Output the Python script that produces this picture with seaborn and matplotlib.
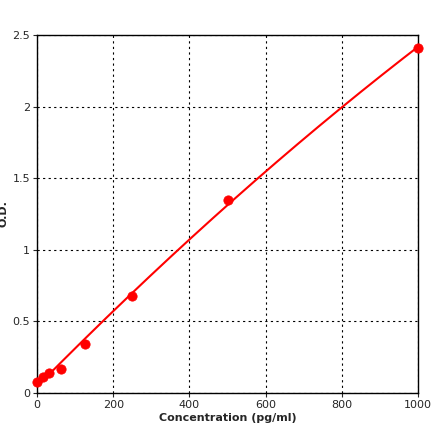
import matplotlib
matplotlib.use("Agg")
import matplotlib.pyplot as plt
import seaborn as sns
import numpy as np
import pandas as pd

conc = [0, 15.6, 31.25, 62.5, 125, 250, 500, 1000]
od = [0.08, 0.11, 0.14, 0.17, 0.34, 0.68, 1.35, 2.41]
xticks = [0, 200, 400, 600, 800, 1000]
yticks = [0, 0.5, 1, 1.5, 2, 2.5]
ytick_labels = ["0", "0.5", "1", "1.5", "2", "2.5"]

sns.set_style("white")
plt.rcParams['font.family'] = ['DejaVu Sans']
fig = plt.figure(figsize=(4.4, 4.41), dpi=100)
ax = fig.add_axes([37/440, 48/441, 381/440, 358/441])

df = pd.DataFrame({"x": conc, "y": od})
coef = np.polyfit(conc, od, 2)
xs = np.linspace(0, 1000, 200)
sns.lineplot(x=xs, y=np.polyval(coef, xs), ax=ax, color="red", lw=1.5)
sns.scatterplot(data=df, x="x", y="y", ax=ax, color="red", marker="o", s=45,
                edgecolor="red", zorder=5, clip_on=False)

ax.set_xlim(0, 1000)
ax.set_ylim(0, 2.5)
ax.set_xticks(xticks)
ax.set_yticks(yticks)
ax.set_yticklabels(ytick_labels)
ax.grid(True, color="black", linestyle=(0, (2, 3)), lw=0.8)
for s in ax.spines.values():
    s.set_color("black"); s.set_linewidth(1)
ax.tick_params(labelsize=8, length=3, direction="out", left=True, bottom=True, pad=2)
ax.set_xlabel("Concentration (pg/ml)", fontsize=8, fontweight="bold", labelpad=2)
ax.set_ylabel("O.D.", fontsize=8, fontweight="bold", labelpad=3)
fig.savefig("out.png", dpi=100)
